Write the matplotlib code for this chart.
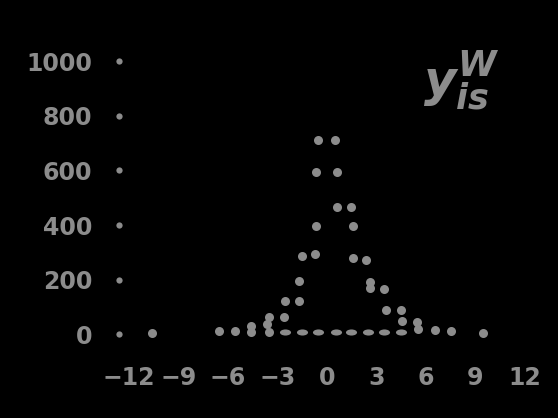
import numpy as np
import matplotlib
matplotlib.use("Agg")
import matplotlib.pyplot as plt
from matplotlib.path import Path
from matplotlib.transforms import Affine2D

# values (bin centres, counts)
count_x = [-10.6, -6.55, -5.55, -4.6, -4.6, -3.6, -3.5, -3.5, -2.6, -2.5,
           -1.65, -1.65, -1.5, -0.7, -0.65, -0.65, -0.5, 0.5, 0.6, 0.65,
           1.45, 1.6, 1.6, 2.4, 2.65, 2.65, 3.45, 3.6, 4.5, 4.55,
           5.5, 5.55, 6.55, 7.55, 9.5]
count_y = [4, 13, 13, 30, 10, 38, 62, 10, 62, 123,
           123, 196, 286, 293, 397, 595, 711, 711, 466, 595,
           466, 397, 278, 272, 192, 168, 165, 91, 89, 50,
           46, 18, 16, 12, 4]

base_x = [-2.5, -1.5, -0.5, 0.55, 1.5, 2.5, 3.45, 4.5]
base_y = [10, 10, 10, 10, 10, 10, 10, 10]

x_ticks = [-12, -9, -6, -3, 0, 3, 6, 9, 12]
y_ticks = [0, 200, 400, 600, 800, 1000]

grey = "#8c8c8c"

# bold italic maths for the corner label
plt.rcParams["mathtext.fontset"] = "custom"
plt.rcParams["mathtext.it"] = "DejaVu Sans:italic:bold"
plt.rcParams["mathtext.rm"] = "DejaVu Sans:bold"

fig = plt.figure(figsize=(5.58, 4.18), dpi=100, facecolor="black")
ax = fig.add_axes([0.213, 0.187, 0.745, 0.693])
ax.set_facecolor("black")

ax.plot(count_x, count_y, "o", color=grey, markersize=6.5, markeredgewidth=0)

# flat ellipse marker for the zero row
ellipse = Path.unit_circle().transformed(Affine2D().scale(1.0, 0.55))
ax.plot(base_x, base_y, linestyle="none", marker=ellipse, color=grey,
        markersize=8, markeredgewidth=0)

ax.set_xlim(-12.6, 12.6)
ax.set_ylim(-20, 1040)
ax.set_xticks(x_ticks)
ax.set_yticks(y_ticks)

for s in ax.spines.values():
    s.set_visible(False)

ax.tick_params(axis="x", length=0, pad=19, labelsize=17, labelcolor=grey)
ax.tick_params(axis="y", length=0, pad=19, labelsize=17, labelcolor=grey)
for lab in ax.get_xticklabels() + ax.get_yticklabels():
    lab.set_fontweight("bold")

# tick marks drawn as dots on the left edge
for t in ax.yaxis.get_major_ticks():
    t.tick1line.set_marker("o")
    t.tick1line.set_markersize(4.5)
    t.tick1line.set_color(grey)
    t.tick1line.set_markeredgewidth(0)

ax.text(0.825, 0.895, r"$y^{W}_{is}$", transform=ax.transAxes,
        fontsize=36, color=grey, ha="center", va="center")

fig.savefig("out.png", dpi=100, facecolor="black")
